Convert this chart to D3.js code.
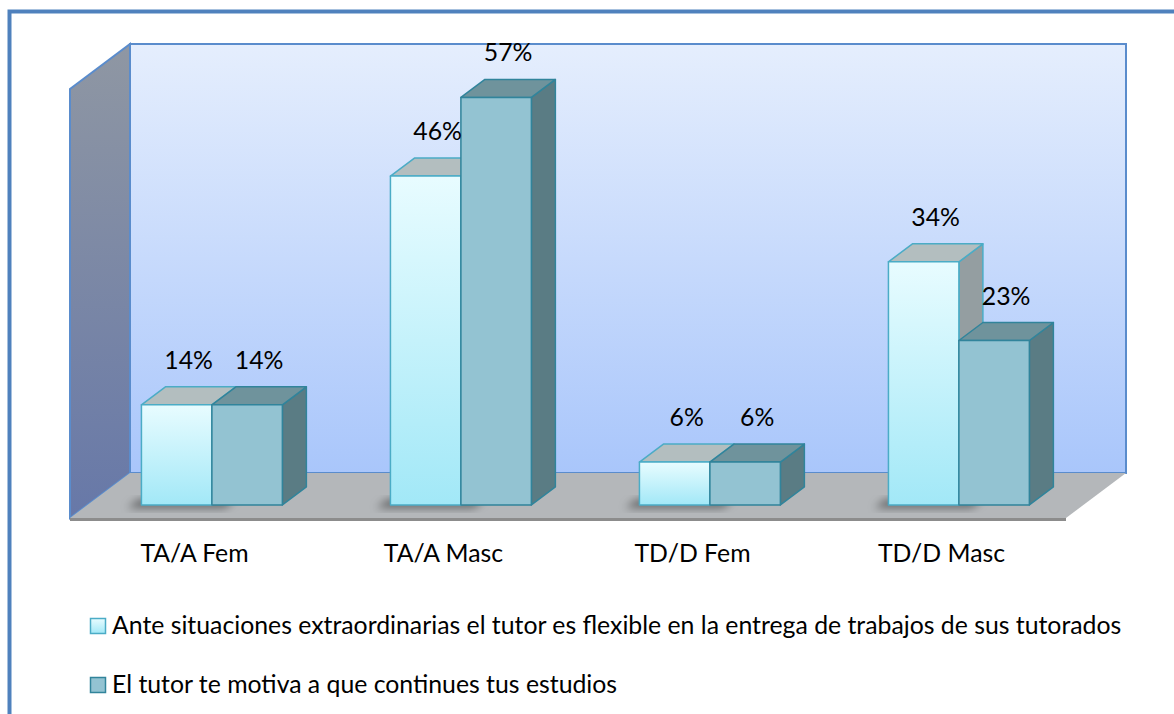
<!DOCTYPE html>
<html>
<head>
<meta charset="utf-8">
<script src="https://cdn.jsdelivr.net/npm/d3@7"></script>
<style>
  html, body { margin: 0; padding: 0; background: #fff; }
  svg { display: block; }
  text { font-family: Lato, "Open Sans", sans-serif; fill: #000; }
</style>
</head>
<body>
<svg id="chart" width="1174" height="714"></svg>
<script>
/* 3-D clustered column chart, two series over four groups. */

const categories = ["TA/A Fem", "TA/A Masc", "TD/D Fem", "TD/D Masc"];
const seriesNames = [
  "Ante situaciones extraordinarias el tutor es flexible en la entrega de trabajos de sus tutorados",
  "El tutor te motiva a que continues tus estudios"
];
const flexibleValues = [14, 46, 6, 34];
const motivaValues = [14, 57, 6, 23];
const valueMax = 60;

const svg = d3.select("#chart");
const defs = svg.append("defs");
const FONT = 24.8;

/* ---------- PROJECTION ---------- */

const FRONT_X = 70;       // left edge of floor front
const FLOOR_Y = 518;      // floor front edge
const DEPTH_DX = 60;      // full depth shift
const DEPTH_DY = -45;
const BAR_Z0 = 0.29;
const BAR_Z1 = 0.69;

const x0 = d3.scaleBand().domain(categories).range([0, 996])
  .paddingInner(0.434).paddingOuter(0.217);
const x1 = d3.scaleBand().domain([0, 1]).range([0, x0.bandwidth()]);
const h = d3.scaleLinear().domain([0, valueMax]).range([0, 429]);

function P(x, v, z) {
  return [FRONT_X + x + z * DEPTH_DX, FLOOR_Y - h(v) + z * DEPTH_DY];
}
function poly(pts) {
  return "M" + pts.map(function (p) { return p[0] + "," + p[1]; }).join("L") + "Z";
}

/* ---------- GRADIENTS ---------- */

function vGrad(id, top, bottom) {
  const g = defs.append("linearGradient").attr("id", id)
    .attr("x1", 0).attr("y1", 0).attr("x2", 0).attr("y2", 1);
  g.append("stop").attr("offset", "0%").attr("stop-color", top);
  g.append("stop").attr("offset", "100%").attr("stop-color", bottom);
}
vGrad("backWall", "#e5eefd", "#a9c6fb");
vGrad("sideWall", "#8f97a3", "#6778a8");
vGrad("s1Front", "#e8fcff", "#a2e8f7");

defs.append("filter").attr("id", "blur")
  .attr("x", "-50%").attr("y", "-50%").attr("width", "200%").attr("height", "200%")
  .append("feGaussianBlur").attr("stdDeviation", 4);

/* ---------- OUTER FRAME ---------- */

svg.append("rect")
  .attr("x", 9.5).attr("y", 11.5).attr("width", 1300).attr("height", 900)
  .attr("fill", "none").attr("stroke", "#4f81bd").attr("stroke-width", 4);

/* ---------- WALLS AND FLOOR ---------- */

const W = 996;
svg.append("path")
  .attr("d", poly([P(0, 0, 1), P(W, 0, 1), P(W, valueMax, 1), P(0, valueMax, 1)]))
  .attr("fill", "url(#backWall)").attr("stroke", "#5a8ccc").attr("stroke-width", 2);

svg.append("path")
  .attr("d", poly([P(0, 0, 0), P(0, 0, 1), P(0, valueMax, 1), P(0, valueMax, 0)]))
  .attr("fill", "url(#sideWall)").attr("stroke", "#5a8ccc").attr("stroke-width", 2);

/* floor thickness, then the floor itself */
svg.append("path")
  .attr("d", poly([P(0, 0, 0), P(W, 0, 0), [P(W, 0, 0)[0], P(W, 0, 0)[1] + 3], [P(0, 0, 0)[0], P(0, 0, 0)[1] + 3]]))
  .attr("fill", "#8c8c8c");
svg.append("path")
  .attr("d", poly([P(0, 0, 0), P(W, 0, 0), P(W, 0, 1), P(0, 0, 1)]))
  .attr("fill", "#b4b7ba");

/* ---------- BARS ---------- */

const series = [
  { values: flexibleValues, front: "url(#s1Front)", top: "#b3bebf", side: "#949ea1", stroke: "#4bacc6" },
  { values: motivaValues,   front: "#93c3d2",       top: "#6f939c", side: "#5a7c84", stroke: "#31849b" }
];

const bars = [];
categories.forEach(function (c, ci) {
  series.forEach(function (s, si) {
    bars.push({ cat: c, si: si, v: s.values[ci], s: s });
  });
});

/* soft shadows on the floor */
const shadowLayer = svg.append("g").attr("filter", "url(#blur)");
categories.forEach(function (c) {
  const xa = x0(c) - 10;
  const xb = x0(c) + x0.bandwidth() * 0.62;
  shadowLayer.append("path")
    .attr("d", poly([P(xa, 0, BAR_Z0 - 0.07), P(xb, 0, BAR_Z0 - 0.07), P(xb, 0, BAR_Z0 + 0.12), P(xa, 0, BAR_Z0 + 0.12)]))
    .attr("fill", "#000").attr("opacity", 0.45);
});

const barLayer = svg.append("g");
bars.forEach(function (b) {
  const xa = x0(b.cat) + x1(b.si);
  const xb = xa + x1.bandwidth();
  const g = barLayer.append("g")
    .attr("stroke", b.s.stroke).attr("stroke-width", 1.5).attr("stroke-linejoin", "round");
  g.append("path").attr("fill", b.s.side)
    .attr("d", poly([P(xb, 0, BAR_Z0), P(xb, 0, BAR_Z1), P(xb, b.v, BAR_Z1), P(xb, b.v, BAR_Z0)]));
  g.append("path").attr("fill", b.s.top)
    .attr("d", poly([P(xa, b.v, BAR_Z0), P(xb, b.v, BAR_Z0), P(xb, b.v, BAR_Z1), P(xa, b.v, BAR_Z1)]));
  g.append("path").attr("fill", b.s.front)
    .attr("d", poly([P(xa, 0, BAR_Z0), P(xb, 0, BAR_Z0), P(xb, b.v, BAR_Z0), P(xa, b.v, BAR_Z0)]));

  const tb = P((xa + xb) / 2, b.v, BAR_Z1);
  svg.append("text")
    .attr("x", tb[0] - 12).attr("y", tb[1] - 18)
    .attr("text-anchor", "middle").attr("font-size", FONT)
    .text(b.v + "%");
});

/* ---------- CATEGORY LABELS ---------- */

svg.append("g").selectAll("text").data(categories).join("text")
  .attr("x", function (d) { return FRONT_X + x0(d) + x0.bandwidth() / 2; })
  .attr("y", 562)
  .attr("text-anchor", "middle").attr("font-size", FONT)
  .text(function (d) { return d; });

/* ---------- LEGEND ---------- */

const legend = svg.append("g");
seriesNames.forEach(function (name, i) {
  const y = 618 + i * 59;
  legend.append("rect")
    .attr("x", 90.5).attr("y", y + 0.5).attr("width", 15).attr("height", 15)
    .attr("fill", series[i].front).attr("stroke", series[i].stroke).attr("stroke-width", 1.5);
  legend.append("text")
    .attr("x", 112).attr("y", y + 16)
    .attr("font-size", FONT)
    .text(name);
});
</script>
</body>
</html>
